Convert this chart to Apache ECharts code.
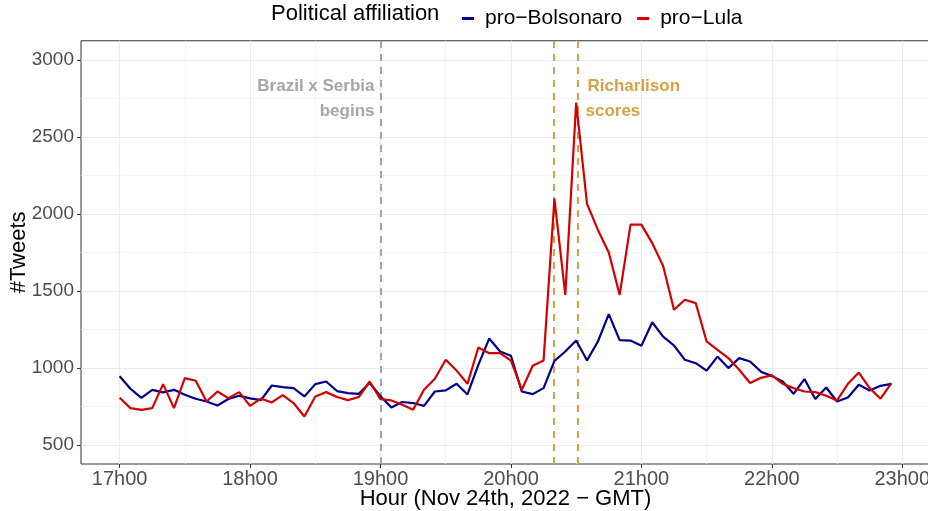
<!DOCTYPE html>
<html><head><meta charset="utf-8">
<script src="https://cdn.jsdelivr.net/npm/echarts@6/dist/echarts.min.js"></script>
<style>html,body{margin:0;padding:0;background:#fff}#c{width:928px;height:511px}</style>
</head><body><div id="c"></div>
<script>
// time of day (hours, GMT) at 5-minute resolution
const times = [
 '17:00','17:05','17:10','17:15','17:20','17:25','17:30','17:35','17:40','17:45','17:50','17:55',
 '18:00','18:05','18:10','18:15','18:20','18:25','18:30','18:35','18:40','18:45','18:50','18:55',
 '19:00','19:05','19:10','19:15','19:20','19:25','19:30','19:35','19:40','19:45','19:50','19:55',
 '20:00','20:05','20:10','20:15','20:20','20:25','20:30','20:35','20:40','20:45','20:50','20:55',
 '21:00','21:05','21:10','21:15','21:20','21:25','21:30','21:35','21:40','21:45','21:50','21:55',
 '22:00','22:05','22:10','22:15','22:20','22:25','22:30','22:35','22:40','22:45','22:50','22:55'];
const proBolsonaro = [
 945,864,805,857,840,857,825,799,781,755,797,818,
 801,790,885,875,868,814,894,911,849,836,831,901,
 815,742,778,771,753,846,853,896,827,1019,1190,1106,
 1078,846,829,868,1045,1106,1177,1048,1171,1349,1180,1177,
 1143,1296,1203,1145,1052,1030,982,1073,998,1063,1041,975,
 946,911,831,927,797,872,781,807,890,853,883,896];
const proLula = [
 805,738,727,738,894,738,933,916,781,846,803,842,
 753,800,775,823,771,684,814,842,810,790,810,911,
 797,788,760,727,857,929,1052,982,896,1132,1095,1095,
 1047,857,1013,1048,2100,1474,2723,2065,1896,1749,1474,1930,
 1930,1810,1662,1377,1442,1420,1171,1117,1063,987,901,935,
 952,896,868,846,842,818,788,896,969,868,799,901];
const xTicks = [17,18,19,20,21,22,23];
const xTickLabels = ['17h00','18h00','19h00','20h00','21h00','22h00','23h00'];
const xMinor = [17.5,18.5,19.5,20.5,21.5,22.5];
const yTicks = [500,1000,1500,2000,2500,3000];
const yMinor = [750,1250,1750,2250,2750];
const eventMatchStart = 19.0;
const eventGoals = [20.3333, 20.51];
const seriesNames = ['pro\u2212Bolsonaro','pro\u2212Lula'];

function toHours(t){const p=t.split(':');return +p[0] + (+p[1])/60;}
const xs = times.map(toHours);
const blueData = xs.map((x,i)=>[x,proBolsonaro[i]]);
const redData = xs.map((x,i)=>[x,proLula[i]]);

const FONT = '"Liberation Sans", Arial, Helvetica, sans-serif';
const chart = echarts.init(document.getElementById('c'), null, {renderer:'canvas'});

const gridLines = [];
xTicks.forEach(v=>gridLines.push({xAxis:v, lineStyle:{color:'#ebebeb',width:1.1,type:'solid'}}));
xMinor.forEach(v=>gridLines.push({xAxis:v, lineStyle:{color:'#f2f2f2',width:0.8,type:'solid'}}));
yTicks.forEach(v=>gridLines.push({yAxis:v, lineStyle:{color:'#ebebeb',width:1.1,type:'solid'}}));
yMinor.forEach(v=>gridLines.push({yAxis:v, lineStyle:{color:'#f2f2f2',width:0.8,type:'solid'}}));

const option = {
  animation:false,
  backgroundColor:'#ffffff',
  textStyle:{fontFamily:FONT},
  grid:{left:81, right:-2, top:40.75, bottom:47, show:true, borderColor:'#333333', borderWidth:1,
        containLabel:false, outerBoundsMode:'none'},
  legend:{
    data:seriesNames, left:457, top:3, icon:'rect', itemWidth:12, itemHeight:3, itemGap:15,
    textStyle:{fontSize:21, color:'#000', fontFamily:FONT, padding:[0,0,0,6]}
  },
  xAxis:{
    type:'value', min:16.704, max:23.2125,
    splitLine:{show:false},
    axisLine:{show:false},
    axisTick:{show:true, customValues:xTicks, length:4, lineStyle:{color:'#333333'}},
    axisLabel:{customValues:xTicks, fontSize:20, color:'#4d4d4d', margin:5, hideOverlap:false,
      formatter:function(v){const i=xTicks.indexOf(Math.round(v));return i>=0?xTickLabels[i]:'';}},
    name:'Hour (Nov 24th, 2022 \u2212 GMT)', nameLocation:'middle', nameGap:24, nameMoveOverlap:false,
    nameTextStyle:{fontSize:22, color:'#000', verticalAlign:'top'}
  },
  yAxis:{
    type:'value', min:375, max:3125,
    splitLine:{show:false},
    axisLine:{show:false},
    axisTick:{show:true, customValues:yTicks, length:4, lineStyle:{color:'#333333'}},
    axisLabel:{customValues:yTicks, fontSize:19, color:'#4d4d4d', margin:7,
      formatter:function(v){return String(Math.round(v));}},
    name:'#Tweets', nameLocation:'middle', nameGap:51, nameRotate:90, nameMoveOverlap:false,
    nameTextStyle:{fontSize:22, color:'#000'}
  },
  series:[
    {name:'_grid', type:'line', data:[], z:0, silent:true,
     markLine:{z:0, silent:true, symbol:['none','none'], label:{show:false}, data:gridLines, animation:false}},
    {name:'_events', type:'line', data:[], z:1, silent:true,
     markLine:{z:1, silent:true, symbol:['none','none'], label:{show:false}, animation:false,
      data:[
        {xAxis:eventMatchStart, lineStyle:{color:'#a3a3a3', width:2, type:[7,6]}},
        {xAxis:eventGoals[0], lineStyle:{color:'#d6a243', width:2, type:[7,6]}},
        {xAxis:eventGoals[1], lineStyle:{color:'#d6a243', width:2, type:[7,6]}}
      ]}},
    {name:seriesNames[0], type:'line', data:blueData, showSymbol:false, z:3,
     lineStyle:{color:'#00008b', width:2.2}, itemStyle:{color:'#00008b'}},
    {name:seriesNames[1], type:'line', data:redData, showSymbol:false, z:4,
     lineStyle:{color:'#d40000', width:2.2}, itemStyle:{color:'#d40000'}}
  ]
};
chart.setOption(option);

const p19 = chart.convertToPixel({gridIndex:0},[eventMatchStart,2830]);
const p19b = chart.convertToPixel({gridIndex:0},[eventMatchStart,2668]);
const pG = chart.convertToPixel({gridIndex:0},[eventGoals[1],2830]);
const pGb = chart.convertToPixel({gridIndex:0},[eventGoals[1],2668]);
chart.setOption({graphic:[
  {type:'text', z:100, left:271, top:3, style:{text:'Political affiliation', font:'22px '+FONT, fill:'#000'}},
  {type:'text', z:100, x:p19[0]-6, y:p19[1], style:{text:'Brazil x Serbia', font:'bold 17px '+FONT, fill:'#a6a6a6', align:'right', verticalAlign:'middle'}},
  {type:'text', z:100, x:p19b[0]-6, y:p19b[1], style:{text:'begins', font:'bold 17px '+FONT, fill:'#a6a6a6', align:'right', verticalAlign:'middle'}},
  {type:'text', z:100, x:pG[0]+10, y:pG[1], style:{text:'Richarlison', font:'bold 17px '+FONT, fill:'#d6a243', align:'left', verticalAlign:'middle'}},
  {type:'text', z:100, x:pGb[0]+8, y:pGb[1], style:{text:'scores', font:'bold 17px '+FONT, fill:'#d6a243', align:'left', verticalAlign:'middle'}}
]});
</script></body></html>
